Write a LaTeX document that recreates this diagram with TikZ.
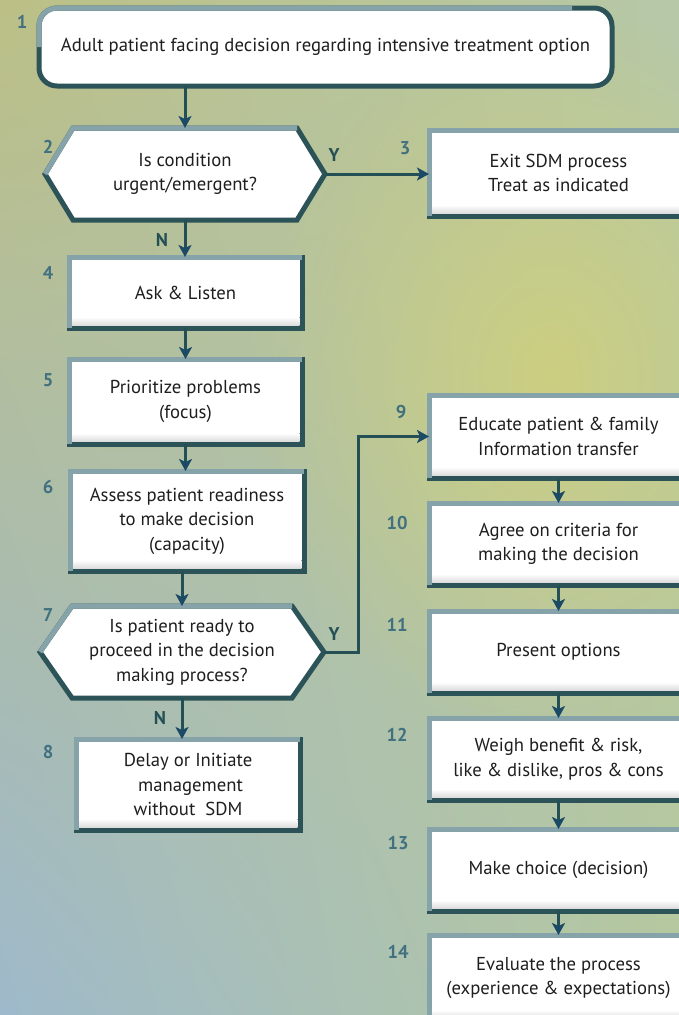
\documentclass[tikz,border=0pt]{standalone}
\usepackage{fontspec}
\setmainfont{PT Sans}
\usetikzlibrary{arrows.meta,calc,fadings,shadings}
\tikzfading[name=glowfade, inner color=transparent!0, outer color=transparent!100]
\definecolor{edgeDark}{HTML}{2C5357}
\definecolor{edgeLight}{HTML}{85A3A9}
\definecolor{lineCol}{HTML}{244F55}
\definecolor{tipCol}{HTML}{1B4A66}
\definecolor{numCol}{HTML}{41707F}
\definecolor{txtCol}{HTML}{1E1E1E}
\definecolor{bgUL}{HTML}{BCC086}
\definecolor{bgUR}{HTML}{B6C8A8}
\definecolor{bgLL}{HTML}{9EB9CB}
\definecolor{bgLR}{HTML}{B6C89E}
\definecolor{glow}{HTML}{D2D178}
\pgfdeclarelayer{bg}
\pgfsetlayers{bg,main}
\begin{document}
\begin{tikzpicture}[x=1pt,y=-1pt,
  box/.style={draw=edgeDark, fill=white, line width=5pt, outer sep=0pt, inner sep=2pt,
    align=center, font=\fontsize{18.7}{24.5}\selectfont, text=txtCol},
  hexnode/.style={outer sep=0pt, inner sep=0pt, align=center,
    font=\fontsize{18.7}{24.5}\selectfont, text=txtCol},
  hexline/.style={draw=edgeDark, fill=white, line width=5pt, line join=miter},
  num/.style={font=\fontsize{18.5}{20}\selectfont\bfseries, text=numCol},
  yn/.style={font=\fontsize{18.5}{20}\selectfont\bfseries, text=lineCol},
  flow/.style={draw=lineCol, line width=3pt, -{Stealth[length=12pt,width=13pt,inset=3pt,color=tipCol]}},
  lite/.style={draw=edgeLight, line width=5pt},
  inshade/.style={top color=white, bottom color=black!14, draw=none},
]
\useasboundingbox (0,0) rectangle (679,1015);
\clip (0,0) rectangle (679,1015);
\begin{pgfonlayer}{bg}
  \shade[upper left=bgUL, upper right=bgUR, lower left=bgLL, lower right=bgLR] (0,0) rectangle (679,1015);
  \fill[glow, opacity=0.8, path fading=glowfade] (250,0) rectangle (850,750);
\end{pgfonlayer}

% decision hexagons (nodes)
\node[hexnode, minimum width=280pt, minimum height=92pt] (d2) at (185,174) {Is condition\\urgent/emergent?};
\node[hexnode, minimum width=284pt, minimum height=92pt] (d7) at (182,652) {Is patient ready to\\proceed in the decision\\making process?};
\begin{pgfonlayer}{bg}
  \draw[hexline] (d2.west) -- ([xshift=28pt]d2.north west) -- ([xshift=-28pt]d2.north east) -- (d2.east)
     -- ([xshift=-28pt]d2.south east) -- ([xshift=28pt]d2.south west) -- cycle;
  \draw[hexline] (d7.west) -- ([xshift=32pt]d7.north west) -- ([xshift=-32pt]d7.north east) -- (d7.east)
     -- ([xshift=-32pt]d7.south east) -- ([xshift=32pt]d7.south west) -- cycle;
\end{pgfonlayer}
\draw[lite] (d2.west) -- ([xshift=28pt]d2.north west) -- ([xshift=-28pt]d2.north east);
\draw[lite] (d7.west) -- ([xshift=32pt]d7.north west) -- ([xshift=-32pt]d7.north east);

% boxes
\node[box, rounded corners=18pt, minimum width=573pt, minimum height=78pt] (b1) at (325.5,47)
  {Adult patient facing decision regarding intensive treatment option};
\draw[lite, rounded corners=18pt] (b1.west) -- (b1.north west) -- ($(b1.north east)+(-40,0)$);

\node[box, minimum width=259pt, minimum height=86pt] (b3) at (558.5,173) {Exit SDM process\\Treat as indicated};
\node[box, minimum width=233pt, minimum height=71pt] (b4) at (185.5,292.5) {Ask \& Listen};
\node[box, minimum width=233pt, minimum height=85pt] (b5) at (185.5,401.5) {Prioritize problems\\(focus)};
\node[box, minimum width=234pt, minimum height=100pt] (b6) at (187,521) {Assess patient readiness\\to make decision\\(capacity)};
\node[box, minimum width=224pt, minimum height=91pt] (b8) at (188,784.5) {Delay or Initiate\\\ management\\without\ \ SDM};
\node[box, minimum width=259pt, minimum height=83pt] (b9) at (558.5,436.5) {Educate patient \& family\\Information transfer};
\node[box, minimum width=259pt, minimum height=82pt] (b10) at (558.5,544) {Agree on criteria for\\making the decision};
\node[box, minimum width=259pt, minimum height=82pt] (b11) at (558.5,652) {Present options};
\node[box, minimum width=259pt, minimum height=82pt] (b12) at (558.5,759) {Weigh benefit \& risk,\\like \& dislike, pros \& cons};
\node[box, minimum width=259pt, minimum height=82pt] (b13) at (558.5,870) {Make choice (decision)};
\node[box, minimum width=259pt, minimum height=86pt] (b14) at (558.5,978) {Evaluate the process\\(experience \& expectations)};

\foreach \b in {b3,b4,b5,b6,b8,b9,b10,b11,b12,b13,b14}{
  \fill[inshade] ($(\b.south west)+(2.5,-2.5)$) rectangle ($(\b.south east)+(-2.5,-11)$);
  \draw[lite] (\b.south west) -- (\b.north west) -- (\b.north east);
}

% numbers
\node[num] (n1) at (22,22) {1};
\node[num] (n2) at (48,147) {2};
\node[num] (n3) at (405,148) {3};
\node[num] (n4) at (48,273) {4};
\node[num] (n5) at (48,380) {5};
\node[num] (n6) at (48,487) {6};
\node[num] (n7) at (48,615) {7};
\node[num] (n8) at (48,752) {8};
\node[num] (n9) at (401,412) {9};
\node[num] (n10) at (397,523) {10};
\node[num] (n11) at (397,625) {11};
\node[num] (n12) at (397,735) {12};
\node[num] (n13) at (398,843) {13};
\node[num] (n14) at (398,952) {14};

% Y/N labels
\node[yn] (y2) at (334,155) {Y};
\node[yn] (no2) at (162,240) {N};
\node[yn] (y7) at (334,634) {Y};
\node[yn] (no7) at (160,718) {N};

% connectors
\draw[flow] (b1.south -| d2.north) -- (d2.north);
\draw[flow] (d2.east) -- (d2.east -| b3.west);
\draw[flow] (d2.south) -- (d2.south |- b4.north);
\draw[flow] (b4.south) -- (b5.north);
\draw[flow] (b5.south) -- (b5.south |- b6.north);
\draw[flow] (d7.north |- b6.south) -- (d7.north);
\draw[flow] (d7.south) -- (d7.south |- b8.north);
\draw[flow] (d7.east) -- ++(34pt,0pt) |- (b9.west);
\draw[flow] (b9.south) -- (b10.north);
\draw[flow] (b10.south) -- (b11.north);
\draw[flow] (b11.south) -- (b12.north);
\draw[flow] (b12.south) -- (b13.north);
\draw[flow] (b13.south) -- (b14.north);
\end{tikzpicture}
\end{document}
